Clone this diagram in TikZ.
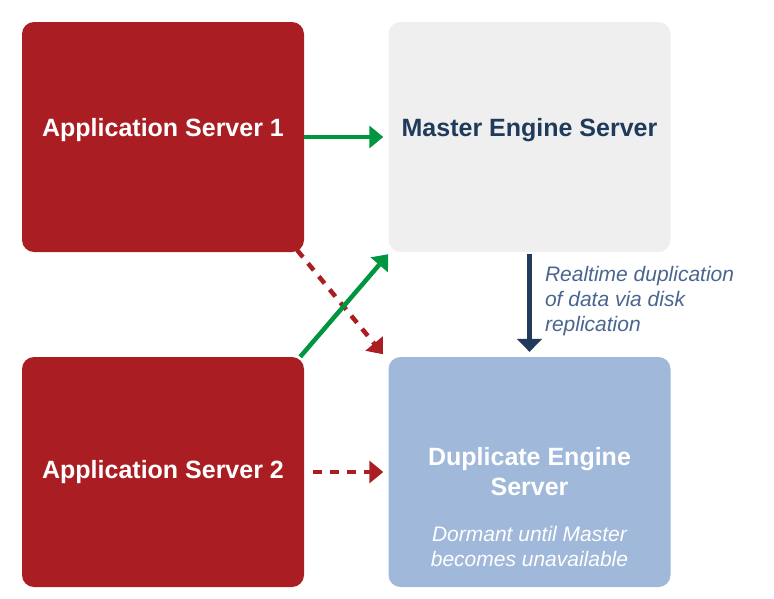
\documentclass[tikz,border=0pt]{standalone}
\usepackage{fontspec}
\setmainfont{Liberation Sans}
\usetikzlibrary{arrows.meta,positioning}

\definecolor{appred}{HTML}{AA1E23}
\definecolor{mastergray}{HTML}{EFEFEF}
\definecolor{masternavy}{HTML}{1F3A5A}
\definecolor{dupblue}{HTML}{A0B8D9}
\definecolor{linkgreen}{HTML}{00953F}
\definecolor{notegray}{HTML}{4A6590}

\tikzset{
  server/.style={rounded corners=12pt, minimum width=282pt, minimum height=230pt,
    align=center, font=\fontsize{25}{30}\selectfont\bfseries},
  toprow/.style={text depth=19pt},
  greenlink/.style={linkgreen, line width=4.5pt, -{Triangle[length=14pt,width=22pt]}},
  redlink/.style={appred, line width=4.5pt, dash pattern=on 9pt off 8pt,
    -{Triangle[length=14pt,width=22pt]}},
  note/.style={font=\fontsize{21}{25}\selectfont\itshape, align=left}
}

\begin{document}
\begin{tikzpicture}[x=1pt,y=-1pt]
    \useasboundingbox (0,0) rectangle (774,598);

    % Servers
    \node[server, toprow, fill=appred, text=white] (app1) at (163,137) {Application Server 1};
    \node[server, toprow, fill=mastergray, text=masternavy] (master) at (529.5,137) {Master Engine Server};
    \node[server, fill=appred, text=white] (app2) at (163,472) {Application Server 2};
    \node[server, fill=dupblue, text=white] (dup) at (529.5,472) {Duplicate Engine\\Server};

    % Notes
    \node[note, text=white, align=center] (dormant) at ([yshift=41pt]dup.south)
        {Dormant until Master\\becomes unavailable};

    % Connections
    \draw[greenlink, shorten >=5pt] (app1.east) -- (master.west);
    \draw[redlink, shorten >=2pt] ([xshift=-7pt,yshift=2pt]app1.south east)
        -- ([xshift=-4pt,yshift=1pt]dup.north west);
    \draw[greenlink] ([xshift=-4pt]app2.north east) -- ([yshift=-2pt]master.south west);
    \draw[redlink, shorten <=9pt, shorten >=5pt] (app2.east) -- (dup.west);
    \draw[masternavy, line width=4.5pt, -{Triangle[length=13pt,width=25pt]},
        shorten <=2pt, shorten >=5pt] (master.south) -- (dup.north);

    % Replication note
    \node[note, text=notegray, anchor=north west] (replica) at ([xshift=12pt,yshift=-11pt]master.south)
        {Realtime duplication\\of data via disk\\replication};

\end{tikzpicture}
\end{document}
